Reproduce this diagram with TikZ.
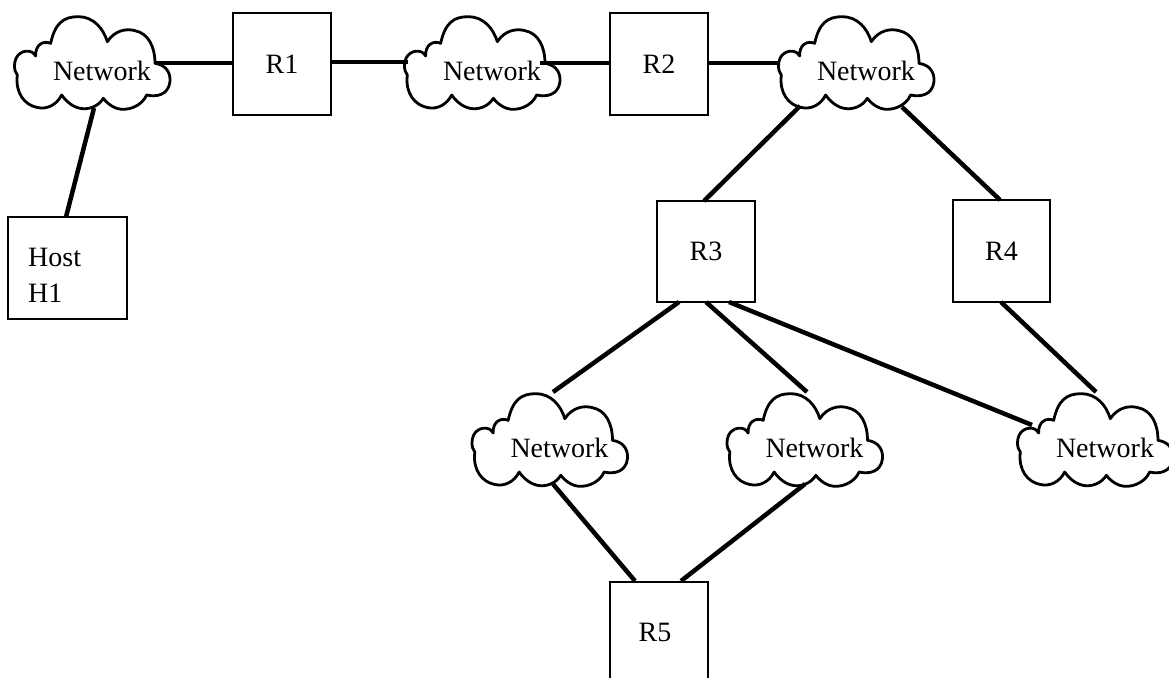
\documentclass[tikz,border=0pt]{standalone}
\usepackage{fontspec}
\setmainfont{Liberation Serif}
\tikzset{
  x=1pt,y=-1pt,
  boxnode/.style={draw,line width=1.8pt,rectangle,inner sep=0pt,font=\fontsize{28}{32}\selectfont},
  cloudline/.style={line width=2.8pt,line join=round},
  link/.style={line width=4.5pt},
  nettext/.style={inner sep=0pt,font=\fontsize{28}{32}\selectfont},
}
\newcommand{\netcloud}[3]{%
  \begin{scope}[shift={(#2,#3)},xscale=0.3333,yscale=0.3333]
  \draw[cloudline] (48,175) .. controls (60,150) and (95,145) .. (107,168)
    .. controls (105,135) and (130,120) .. (152,130)
    .. controls (165,70) and (190,50) .. (235,50)
    .. controls (280,50) and (310,85) .. (322,125)
    .. controls (345,90) and (380,85) .. (405,92)
    .. controls (445,100) and (465,140) .. (465,190)
    .. controls (500,195) and (512,220) .. (510,245)
    .. controls (505,285) and (470,292) .. (440,285)
    .. controls (425,320) and (380,335) .. (350,325)
    .. controls (330,318) and (318,305) .. (310,295)
    .. controls (295,320) and (265,330) .. (240,325)
    .. controls (215,320) and (195,300) .. (185,285)
    .. controls (170,315) and (140,330) .. (110,322)
    .. controls (75,315) and (45,280) .. (52,225)
    .. controls (40,210) and (42,190) .. (48,175) -- cycle;
  \end{scope}
  \node[nettext] (#1) at ({#2+102},{#3+71}) {Network};
}
\begin{document}
\begin{tikzpicture}
\useasboundingbox (0,0) rectangle (1169,677);
\netcloud{N1}{0}{0}
\netcloud{N2}{390}{0}
\netcloud{N3}{764}{0}
\netcloud{N4}{457.5}{377}
\netcloud{N5}{712.5}{377}
\netcloud{N6}{1003}{377}
\node[boxnode,minimum width=98,minimum height=102] (R1) at (282,64) {R1};
\node[boxnode,minimum width=98,minimum height=102] (R2) at (659,64) {R2};
\node[boxnode,minimum width=98,minimum height=101] (R3) at (706,251.5) {R3};
\node[boxnode,minimum width=97,minimum height=102] (R4) at (1001.5,251) {R4};
\node[boxnode,minimum width=98,minimum height=102,anchor=north] (R5) at (659,581) {};
\node[font=\fontsize{28}{32}\selectfont,inner sep=0pt] (R5t) at (655,632) {R5};
\node[boxnode,minimum width=119,minimum height=102] (H1) at (67.5,268) {};
\node[font=\fontsize{28}{36}\selectfont,inner sep=0pt,align=left,anchor=west] (H1t) at (28,275) {Host\\H1};
\coordinate (a1) at (155,63);
\coordinate (a2) at (408,62);
\coordinate (a3) at (540,63);
\coordinate (a4) at (780,63);
\coordinate (a5) at (94,108);
\coordinate (a6) at (800,106);
\coordinate (a7) at (902,107);
\coordinate (a8) at (553,392);
\coordinate (a9) at (807,392);
\coordinate (a10) at (1032,425);
\coordinate (a11) at (1096,392);
\coordinate (a12) at (553,484);
\coordinate (a13) at (805,484);
\draw[link] (a1) -- (R1.west |- a1);
\draw[link] (R1.east |- a2) -- (a2);
\draw[link] (a3) -- (R2.west |- a3);
\draw[link] (R2.east |- a4) -- (a4);
\draw[link] (a5) -- (66,217);
\draw[link] (a6) -- (704,201);
\draw[link] (a7) -- (1000,200);
\draw[link] (679,302) -- (a8);
\draw[link] (706,302) -- (a9);
\draw[link] (729,302) -- (a10);
\draw[link] (1001,302) -- (a11);
\draw[link] (a12) -- (635,581);
\draw[link] (a13) -- (681,581);
\end{tikzpicture}
\end{document}
